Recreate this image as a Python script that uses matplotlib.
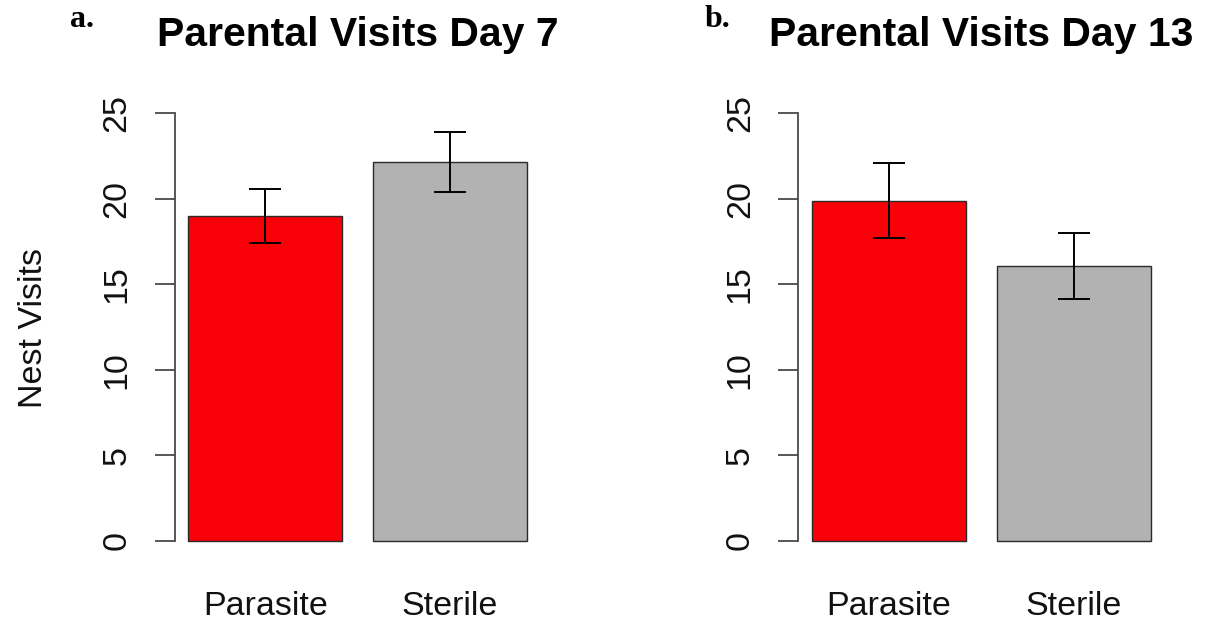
import numpy as np
import matplotlib.pyplot as plt
import matplotlib.transforms as mtransforms

# values
groups = ['Parasite', 'Sterile']
day7_mean = [18.98, 22.14]
day7_se = [1.58, 1.74]
day13_mean = [19.87, 16.07]
day13_se = [2.2, 1.94]
titles = ['Parental Visits Day 7', 'Parental Visits Day 13']
panel_tags = ['a.', 'b.']
yticks = [0, 5, 10, 15, 20, 25]

bar_colors = ['#f80007', '#b2b2b2']
W, H = 1205, 623


def draw_panel(fig, rect, means, ses, title, tag, tag_x, ylabel=None):
    ax = fig.add_axes(rect)
    # R barplot spacing: width 1, space 0.2
    xs = 0.2 + 0.5 + 1.2 * np.arange(len(means))
    ax.bar(xs, means, width=1.0, color=bar_colors, edgecolor='#2a2a2a', linewidth=1.0, zorder=2)
    ax.errorbar(xs, means, yerr=ses, fmt='none', ecolor='black', elinewidth=1.4,
                capsize=11.4, capthick=1.4, zorder=3)
    ax.set_xlim(0.112, 2.488)
    ax.set_ylim(-1, 26)
    for s in ['top', 'right', 'bottom']:
        ax.spines[s].set_visible(False)
    ax.spines['left'].set_bounds(0, 25)
    ax.spines['left'].set_color('#4a4a4a')
    ax.spines['left'].set_linewidth(1.3)
    ax.set_xticks([])
    ax.set_yticks(yticks)
    ax.set_yticklabels([str(v) for v in yticks])
    ax.tick_params(axis='y', length=14.5, width=1.3, color='#4a4a4a', pad=21, labelsize=24.5)
    for lab in ax.get_yticklabels():
        lab.set_rotation(90)
        lab.set_rotation_mode('anchor')
        lab.set_ha('center')
        lab.set_va('baseline')
        lab.set_family('Liberation Sans')
        lab.set_color('#111111')

    # category names under the bars
    trans = mtransforms.blended_transform_factory(ax.transData, ax.transAxes)
    for x, g in zip(xs, groups):
        ax.text(x, -0.1238, g, transform=trans, ha='center', va='baseline',
                fontsize=24.5, family='Liberation Sans', color='#111111')

    ttrans = mtransforms.blended_transform_factory(ax.transAxes, fig.transFigure)
    ax.text(0.5, 1 - 46 / H, title, transform=ttrans, ha='center', va='baseline',
            fontsize=29.4, fontweight='bold', family='Liberation Sans')
    fig.text(tag_x / W, 1 - 27 / H, tag, ha='left', va='baseline', fontsize=23,
             fontweight='bold', family='Liberation Serif')
    if ylabel:
        fig.text(42 / W, 1 - 328.5 / H, ylabel, rotation=90, rotation_mode='anchor',
                 ha='center', va='baseline', fontsize=24.5, family='Liberation Sans',
                 color='#111111')
    return ax


fig = plt.figure(figsize=(W / 100, H / 100), dpi=100)
bottom = (H - 557.8) / H
height = 461.9 / H
width = 366 / W
draw_panel(fig, [174.7 / W, bottom, width, height], day7_mean, day7_se,
           titles[0], panel_tags[0], 70, ylabel='Nest Visits')
draw_panel(fig, [798.1 / W, bottom, width, height], day13_mean, day13_se,
           titles[1], panel_tags[1], 705)

fig.savefig('out.png', dpi=100)
